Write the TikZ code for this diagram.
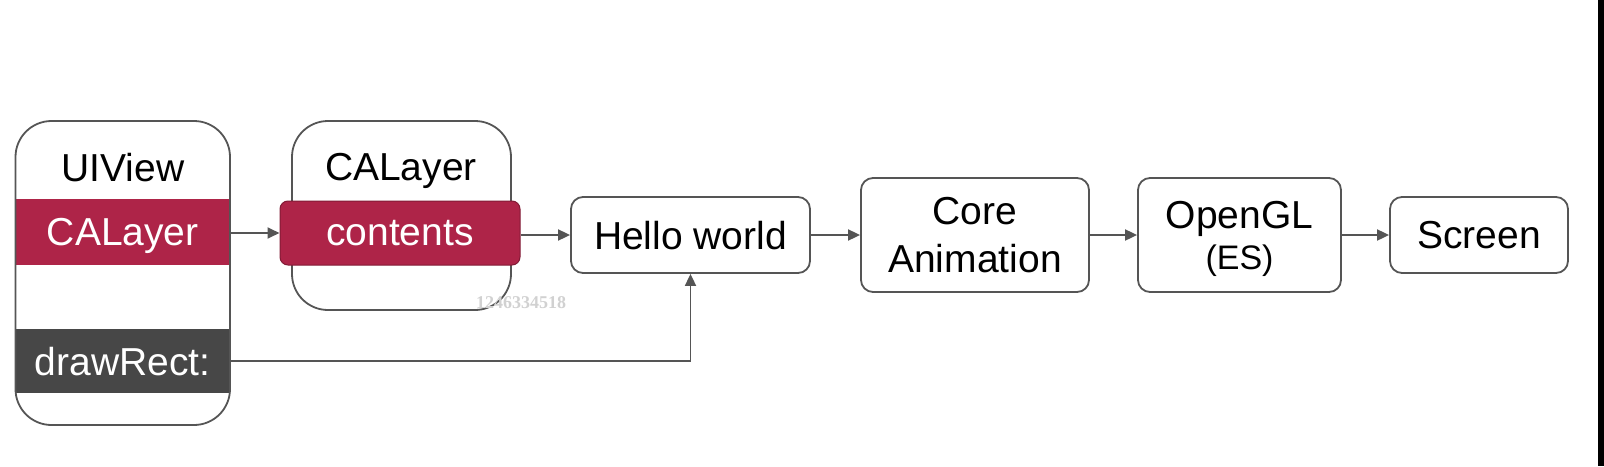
\documentclass[tikz,border=0pt]{standalone}
\usepackage{fontspec}
\setmainfont{Liberation Sans}
\newfontfamily\markfont{Liberation Serif}
\usetikzlibrary{positioning,arrows.meta}
\definecolor{layerred}{HTML}{AE2448}
\definecolor{rectgray}{HTML}{474747}
\definecolor{linegray}{HTML}{555555}
\tikzset{
  box/.style={draw=linegray, line width=1.8pt, rounded corners=12pt, align=center,
    font=\fontsize{39}{48}\selectfont, inner sep=0pt, text depth=0pt},
  band/.style={minimum width=214.5pt, minimum height=66pt, inner sep=0pt, text=white,
    font=\fontsize{39}{44}\selectfont, text depth=0pt},
  title/.style={font=\fontsize{39}{44}\selectfont, text depth=0pt},
  flow/.style={draw=linegray, line width=1.8pt, -{Triangle[length=12pt,width=11pt]}},
}

\begin{document}
\begin{tikzpicture}[x=1pt,y=-1pt]
  \useasboundingbox (0,0) rectangle (1604,466);
  % UIView
  \node [band, fill=layerred] (uilayer) at (122.75,232) {CALayer};
  \node [band, fill=rectgray, minimum height=64pt] (drawrect) at (122.75,361) {drawRect:};
  \node [box, rounded corners=36pt, minimum width=214.5pt, minimum height=304pt] (uiview) at (122.75,273) {};
  \node [title] (uititle) at (123,167.5) {UIView};
  % CALayer
  \node [box, rounded corners=36pt, minimum width=219pt, minimum height=189pt] (layer) at (401.5,215.5) {};
  \node [title] (layertitle) at (401,166.5) {CALayer};
  \node [box, draw=layerred!75!black, line width=1pt, rounded corners=8pt, fill=layerred,
    text=white, minimum width=240pt, minimum height=64pt] (contents) at (400,233) {contents};
  \node [text=black!18, font=\markfont\bfseries\fontsize{18}{18}\selectfont] (mark) at (521,303) {1246334518};
  % pipeline
  \node [box, minimum width=239pt, minimum height=76pt] (hello) at (690.5,235) {Hello world};
  \node [box, minimum width=228pt, minimum height=114pt] (core) at (975,235) {Core\\Animation};
  \node [box, minimum width=203pt, minimum height=114pt] (opengl) at (1239.5,235)
    {OpenGL\\[-7pt]{\fontsize{34}{40}\selectfont(ES)}};
  \node [box, minimum width=178pt, minimum height=76pt] (screen) at (1479,235) {Screen};
  % arrows
  \draw [flow] (uilayer.east |- contents.west) -- (contents.west);
  \draw [flow] (contents.east |- hello.west) -- (hello.west);
  \draw [flow] (hello) -- (core);
  \draw [flow] (core) -- (opengl);
  \draw [flow] (opengl) -- (screen);
  \draw [flow] (drawrect.east) -| (hello.south);
  \fill [black] (1598,0) rectangle (1604,466);
\end{tikzpicture}
\end{document}
